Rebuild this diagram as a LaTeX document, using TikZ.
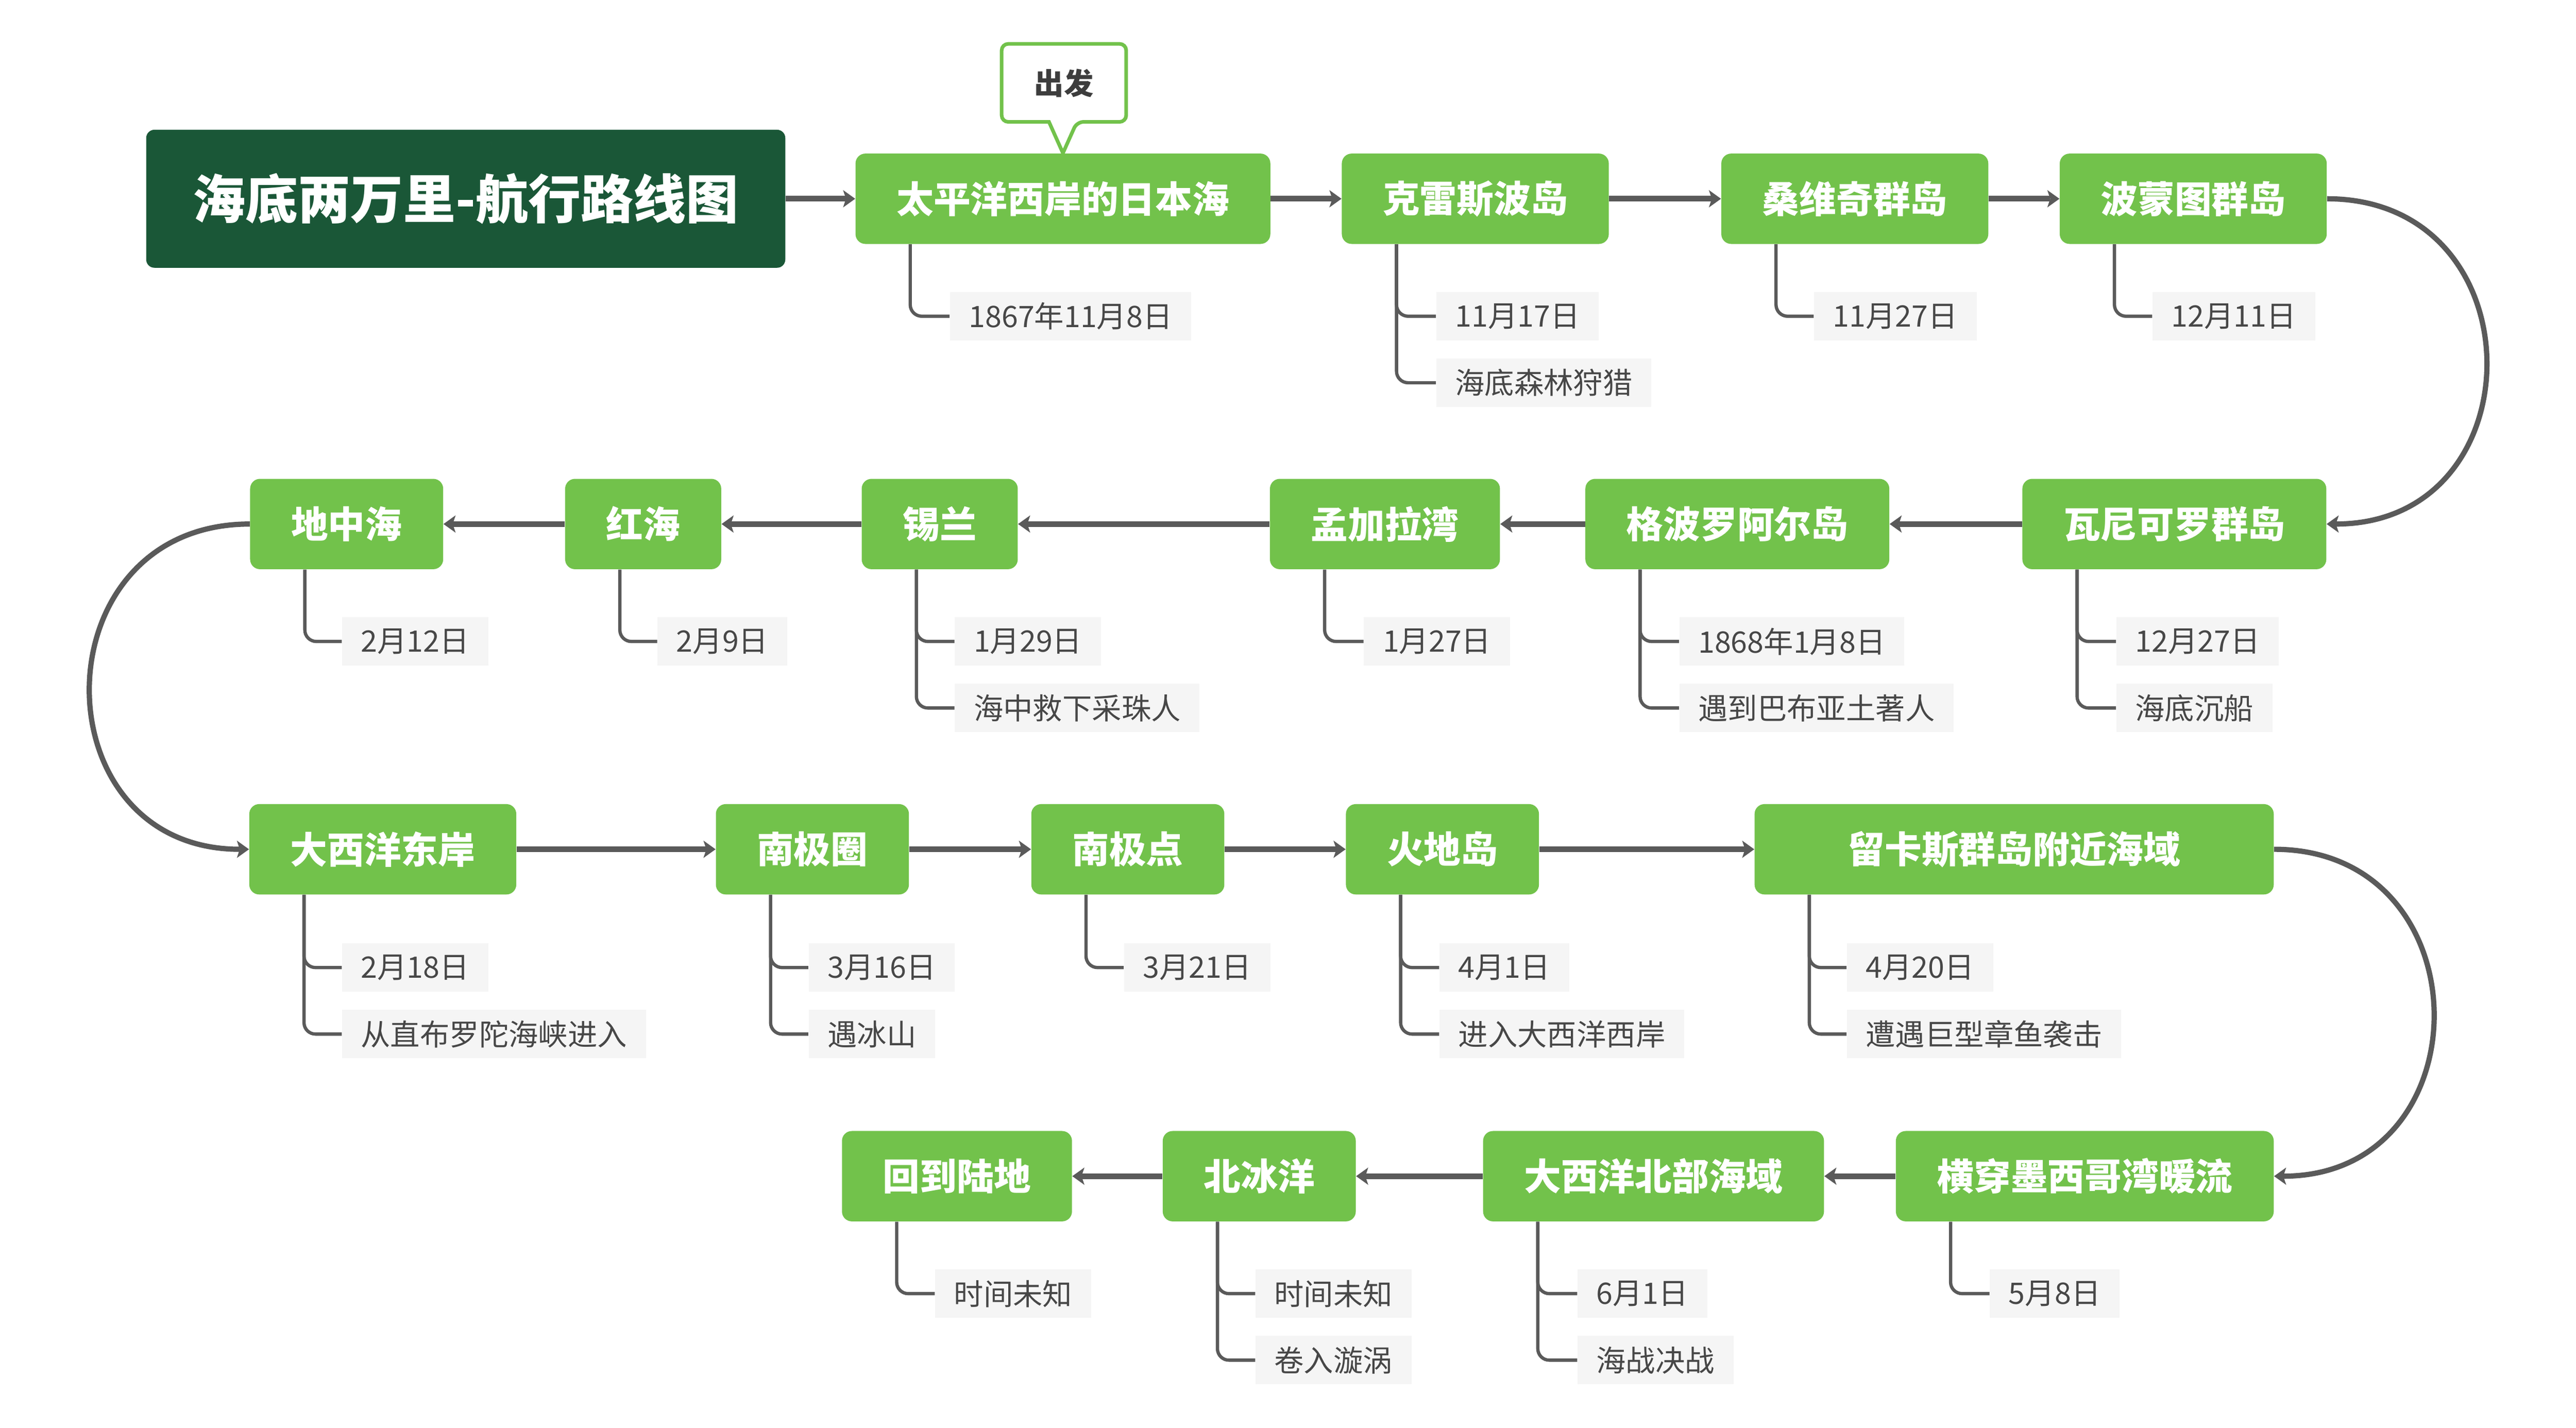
\documentclass[tikz,border=0pt]{standalone}
\usepackage{fontspec}
\newfontfamily\cjk{Noto Sans CJK SC}
\usetikzlibrary{arrows.meta}
\definecolor{mgreen}{HTML}{72C24B}
\definecolor{dgreen}{HTML}{1A5737}
\definecolor{lblbg}{HTML}{F5F5F5}
\definecolor{lbltxt}{HTML}{474747}
\definecolor{lnk}{HTML}{5A5A5A}
\definecolor{calltxt}{HTML}{3D3D3D}
\begin{document}
\begin{tikzpicture}[x=1pt,y=-1pt,
  mainbox/.style={fill=mgreen, text=white, font=\cjk\bfseries\fontsize{22.5}{27}\selectfont,
    rounded corners=6pt, minimum height=55pt, inner xsep=25pt, inner ysep=0pt},
  titlebox/.style={fill=dgreen, text=white, font=\cjk\bfseries\fontsize{32}{38}\selectfont,
    rounded corners=5pt, minimum height=84pt, minimum width=389pt, inner sep=0pt},
  lbl/.style={anchor=west, fill=lblbg, text=lbltxt, font=\cjk\fontsize{18}{22}\selectfont,
    minimum height=29.5pt, inner xsep=11.5pt, inner ysep=0pt},
  subln/.style={draw=lnk, line width=2pt, rounded corners=7pt},
  tipx/.tip={Stealth[length=7.4pt,width=10.6pt,inset=1.8pt,line width=0pt]},
  mainar/.style={draw=lnk, line width=3.5pt, -tipx},
  curvear/.style={draw=lnk, line width=3.2pt, -tipx},
  callout/.style={draw=mgreen, line width=2.2pt, fill=white},
  starttxt/.style={text=calltxt, font=\cjk\bfseries\fontsize{18}{22}\selectfont, inner sep=0pt}
]
\fill[white] (0,0) rectangle (1568,869.1);
\useasboundingbox (0,0) rectangle (1568,869.1);

% title
\node[titlebox] (title) at (283.5,121) {海底两万里-航行路线图};

% row 1
\node[mainbox] (n1) at (647,121) {太平洋西岸的日本海};
\node[mainbox] (n2) at (898,121) {克雷斯波岛};
\node[mainbox] (n3) at (1129,121) {桑维奇群岛};
\node[mainbox] (n4) at (1335,121) {波蒙图群岛};
% row 2
\node[mainbox] (n5) at (1323.5,319) {瓦尼可罗群岛};
\node[mainbox] (n6) at (1057.5,319) {格波罗阿尔岛};
\node[mainbox] (n7) at (843,319) {孟加拉湾};
\node[mainbox] (n8) at (572,319) {锡兰};
\node[mainbox] (n9) at (391.5,319) {红海};
\node[mainbox] (n10) at (211,319) {地中海};
% row 3
\node[mainbox] (n11) at (233,517) {大西洋东岸};
\node[mainbox] (n12) at (494.5,517) {南极圈};
\node[mainbox] (n13) at (686.5,517) {南极点};
\node[mainbox] (n14) at (878,517) {火地岛};
\node[mainbox, minimum width=316pt] (n15) at (1226,517) {留卡斯群岛附近海域};
% row 4
\node[mainbox] (n16) at (1269,716) {横穿墨西哥湾暖流};
\node[mainbox] (n17) at (1006.5,716) {大西洋北部海域};
\node[mainbox] (n18) at (766.5,716) {北冰洋};
\node[mainbox] (n19) at (582.5,716) {回到陆地};

% callout
\draw[callout] (647,93.2) -- (638.5,74.2) [rounded corners=4pt] -- (609.7,74.2) -- (609.7,26.7)
  -- (685.5,26.7) -- (685.5,74.2) -- (655.5,74.2) [sharp corners] -- cycle;
\node[starttxt] (start) at (647.6,50.5) {出发};

% labels row 1
\node[lbl] (l1a) at (578,192.5) {1867年11月8日};
\node[lbl] (l2a) at (874,192.5) {11月17日};
\node[lbl] (l2b) at (874,233) {海底森林狩猎};
\node[lbl] (l3a) at (1104,192.5) {11月27日};
\node[lbl] (l4a) at (1310,192.5) {12月11日};
% labels row 2
\node[lbl] (l5a) at (1288,390.5) {12月27日};
\node[lbl] (l5b) at (1288,431) {海底沉船};
\node[lbl] (l6a) at (1022,390.5) {1868年1月8日};
\node[lbl] (l6b) at (1022,431) {遇到巴布亚土著人};
\node[lbl] (l7a) at (830,390.5) {1月27日};
\node[lbl] (l8a) at (581,390.5) {1月29日};
\node[lbl] (l8b) at (581,431) {海中救下采珠人};
\node[lbl] (l9a) at (400,390.5) {2月9日};
\node[lbl] (l10a) at (208,390.5) {2月12日};
% labels row 3
\node[lbl] (l11a) at (208,589) {2月18日};
\node[lbl] (l11b) at (208,629.5) {从直布罗陀海峡进入};
\node[lbl] (l12a) at (492,589) {3月16日};
\node[lbl] (l12b) at (492,629.5) {遇冰山};
\node[lbl] (l13a) at (684,589) {3月21日};
\node[lbl] (l14a) at (876,589) {4月1日};
\node[lbl] (l14b) at (876,629.5) {进入大西洋西岸};
\node[lbl] (l15a) at (1124,589) {4月20日};
\node[lbl] (l15b) at (1124,629.5) {遭遇巨型章鱼袭击};
% labels row 4
\node[lbl] (l16a) at (1211,787.5) {5月8日};
\node[lbl] (l17a) at (960,787.5) {6月1日};
\node[lbl] (l17b) at (960,828) {海战决战};
\node[lbl] (l18a) at (764,787.5) {时间未知};
\node[lbl] (l18b) at (764,828) {卷入漩涡};
\node[lbl] (l19a) at (569,787.5) {时间未知};

% sub connectors
\draw[subln] ([xshift=33.5pt]n1.south west) |- (l1a.west);
\draw[subln] ([xshift=33.5pt]n2.south west) |- (l2a.west);
\draw[subln] ([xshift=33.5pt]n2.south west) |- (l2b.west);
\draw[subln] ([xshift=33.5pt]n3.south west) |- (l3a.west);
\draw[subln] ([xshift=33.5pt]n4.south west) |- (l4a.west);
\draw[subln] ([xshift=33.5pt]n5.south west) |- (l5a.west);
\draw[subln] ([xshift=33.5pt]n5.south west) |- (l5b.west);
\draw[subln] ([xshift=33.5pt]n6.south west) |- (l6a.west);
\draw[subln] ([xshift=33.5pt]n6.south west) |- (l6b.west);
\draw[subln] ([xshift=33.5pt]n7.south west) |- (l7a.west);
\draw[subln] ([xshift=33.5pt]n8.south west) |- (l8a.west);
\draw[subln] ([xshift=33.5pt]n8.south west) |- (l8b.west);
\draw[subln] ([xshift=33.5pt]n9.south west) |- (l9a.west);
\draw[subln] ([xshift=33.5pt]n10.south west) |- (l10a.west);
\draw[subln] ([xshift=33.5pt]n11.south west) |- (l11a.west);
\draw[subln] ([xshift=33.5pt]n11.south west) |- (l11b.west);
\draw[subln] ([xshift=33.5pt]n12.south west) |- (l12a.west);
\draw[subln] ([xshift=33.5pt]n12.south west) |- (l12b.west);
\draw[subln] ([xshift=33.5pt]n13.south west) |- (l13a.west);
\draw[subln] ([xshift=33.5pt]n14.south west) |- (l14a.west);
\draw[subln] ([xshift=33.5pt]n14.south west) |- (l14b.west);
\draw[subln] ([xshift=33.5pt]n15.south west) |- (l15a.west);
\draw[subln] ([xshift=33.5pt]n15.south west) |- (l15b.west);
\draw[subln] ([xshift=33.5pt]n16.south west) |- (l16a.west);
\draw[subln] ([xshift=33.5pt]n17.south west) |- (l17a.west);
\draw[subln] ([xshift=33.5pt]n17.south west) |- (l17b.west);
\draw[subln] ([xshift=33.5pt]n18.south west) |- (l18a.west);
\draw[subln] ([xshift=33.5pt]n18.south west) |- (l18b.west);
\draw[subln] ([xshift=33.5pt]n19.south west) |- (l19a.west);

% main connectors
\draw[mainar] (title.east) -- (n1.west);
\draw[mainar] (n1.east) -- (n2.west);
\draw[mainar] (n2.east) -- (n3.west);
\draw[mainar] (n3.east) -- (n4.west);
\draw[curvear] (n4.east) .. controls +(129,0) and +(129,0) .. (n5.east);
\draw[mainar] (n5.west) -- (n6.east);
\draw[mainar] (n6.west) -- (n7.east);
\draw[mainar] (n7.west) -- (n8.east);
\draw[mainar] (n8.west) -- (n9.east);
\draw[mainar] (n9.west) -- (n10.east);
\draw[curvear] (n10.west) .. controls +(-129,0) and +(-129,0) .. (n11.west);
\draw[mainar] (n11.east) -- (n12.west);
\draw[mainar] (n12.east) -- (n13.west);
\draw[mainar] (n13.east) -- (n14.west);
\draw[mainar] (n14.east) -- (n15.west);
\draw[curvear] (n15.east) .. controls +(129,0) and +(129,0) .. (n16.east);
\draw[mainar] (n16.west) -- (n17.east);
\draw[mainar] (n17.west) -- (n18.east);
\draw[mainar] (n18.west) -- (n19.east);
\end{tikzpicture}
\end{document}
